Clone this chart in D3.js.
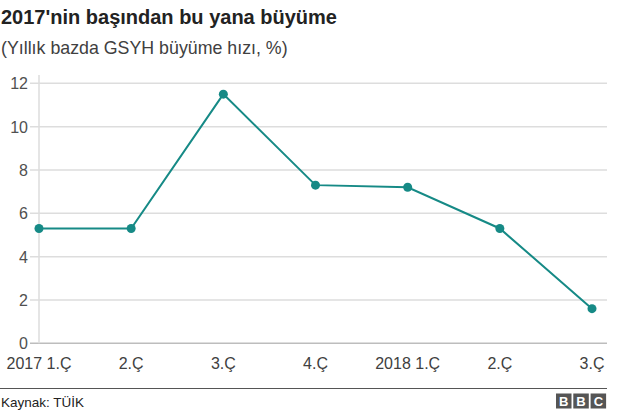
<!DOCTYPE html>
<html><head><meta charset="utf-8">
<script src="https://cdn.jsdelivr.net/npm/d3@7"></script>
<style>
body{margin:0;background:#fff;font-family:Arial,"Liberation Sans",Helvetica,sans-serif;}
</style></head>
<body><svg id="c" width="640" height="413"></svg>
<script>
const categories = ["2017 1.Ç","2.Ç","3.Ç","4.Ç","2018 1.Ç","2.Ç","3.Ç"];
const values = [5.3, 5.3, 11.5, 7.3, 7.2, 5.3, 1.6];
const yTicks = [0,2,4,6,8,10,12];
const title = "2017'nin başından bu yana büyüme";
const subtitle = "(Yıllık bazda GSYH büyüme hızı, %)";
const source = "Kaynak: TÜİK";

(function(){
const svg = d3.select("#c");
const mLeft = 39, mRight = 607, mTop = 83.3, mBottom = 343.3;
const x = d3.scalePoint().domain(d3.range(categories.length)).range([mLeft, 592]);
const y = d3.scaleLinear().domain([0,12]).range([mBottom, mTop]);

svg.append("text").attr("x",1).attr("y",24).attr("font-size",20).attr("font-weight","bold")
  .attr("fill","#222").text(title);
svg.append("text").attr("x",1).attr("y",53.5).attr("font-size",17.8).attr("fill","#404040").text(subtitle);

const g = svg.append("g");
g.selectAll("line.grid").data(yTicks).join("line")
  .attr("x1",30).attr("x2",mRight).attr("y1",d=>y(d)).attr("y2",d=>y(d))
  .attr("stroke",d=>d===0?"#bdbdbd":"#dddddd").attr("stroke-width",1.5);
g.append("line").attr("x1",mLeft).attr("x2",mLeft).attr("y1",75).attr("y2",mBottom)
  .attr("stroke","#dddddd").attr("stroke-width",1.5);
g.selectAll("text.yt").data(yTicks).join("text")
  .attr("x",28).attr("y",d=>y(d)+6).attr("text-anchor","end")
  .attr("font-size",16).attr("fill","#505050").text(d=>d);

g.selectAll("text.xt").data(categories).join("text")
  .attr("x",(d,i)=>x(i)).attr("y",369).attr("text-anchor","middle")
  .attr("font-size",16).attr("fill","#404040").text(d=>d);

const line = d3.line().x((d,i)=>x(i)).y(d=>y(d));
svg.append("path").datum(values).attr("d",line).attr("fill","none")
  .attr("stroke","#168a86").attr("stroke-width",2);
svg.selectAll("circle.p").data(values).join("circle")
  .attr("cx",(d,i)=>x(i)).attr("cy",d=>y(d)).attr("r",4.5).attr("fill","#168a86");

svg.append("line").attr("x1",0).attr("x2",mRight).attr("y1",388.5).attr("y2",388.5)
  .attr("stroke","#555").attr("stroke-width",1.2);
svg.append("text").attr("x",1).attr("y",407).attr("font-size",13.5).attr("fill","#222").text(source);
const logo = svg.append("g");
["B","B","C"].forEach((ch,i)=>{
  const bx = 556 + i*17.3;
  logo.append("rect").attr("x",bx).attr("y",393.5).attr("width",15.5).attr("height",15).attr("fill","#555");
  logo.append("text").attr("x",bx+7.75).attr("y",406).attr("text-anchor","middle")
    .attr("font-size",13).attr("font-weight","bold").attr("fill","#fff").text(ch);
});
})();
</script></body></html>
